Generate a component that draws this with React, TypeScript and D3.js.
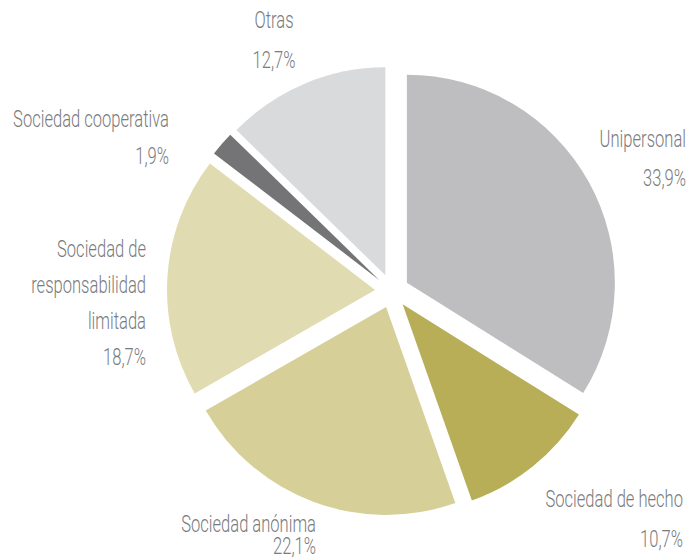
import React from "react";
import * as d3 from "d3";

const categories = [
  "Unipersonal",
  "Sociedad de hecho",
  "Sociedad anónima",
  "Sociedad de responsabilidad limitada",
  "Sociedad cooperativa",
  "Otras",
];
const values = [33.9, 10.7, 22.1, 18.7, 1.9, 12.7];
const valueLabels = ["33,9%", "10,7%", "22,1%", "18,7%", "1,9%", "12,7%"];
const colors = ["#bebec0", "#b8ae58", "#d6cf98", "#e0dbb0", "#747476", "#d9dadc"];

// text lines of each label (name lines followed by value)
const nameLines = [
  ["Unipersonal"],
  ["Sociedad de hecho"],
  ["Sociedad anónima"],
  ["Sociedad de", "responsabilidad", "limitada"],
  ["Sociedad cooperativa"],
  ["Otras"],
];
const labelLayout = [
  { x: 686, y: 147, gap: 39, anchor: "end" },
  { x: 683, y: 507, gap: 40, anchor: "end" },
  { x: 316, y: 532, gap: 22, anchor: "end" },
  { x: 146, y: 257, gap: 36, anchor: "end" },
  { x: 169, y: 127, gap: 37, anchor: "end" },
  { x: 274, y: 28, gap: 40, anchor: "middle" },
];

const W = 689;
const H = 557;
const cx = 392;
const cy = 291;
const R = 208;
const explode = 17;
const squeeze = 0.72;

export default function App() {
  const data = categories.map((c, i) => ({ c, v: values[i], i }));
  const pie = d3.pie<any>().sort(null).value((d: any) => d.v).startAngle(0).endAngle(2 * Math.PI);
  const arcs = pie(data);
  const arc = d3.arc<any>().innerRadius(0).outerRadius(R);

  return (
    <svg
      width={W}
      height={H}
      style={{ position: "absolute", left: 0, top: 0, background: "#fff" }}
      fontFamily="Roboto, sans-serif"
    >
      <g transform={`translate(${cx},${cy})`}>
        {arcs.map((a, i) => {
          const mid = (a.startAngle + a.endAngle) / 2;
          const dx = Math.sin(mid) * explode;
          const dy = -Math.cos(mid) * explode;
          return (
            <path
              key={i}
              d={arc(a) as string}
              fill={colors[i]}
              transform={`translate(${dx},${dy})`}
            />
          );
        })}
      </g>
      {nameLines.map((names, i) => {
        const L = labelLayout[i];
        const lines = [...names, valueLabels[i]];
        return (
          <text
            key={i}
            transform={`translate(${L.x},${L.y}) scale(${squeeze},1)`}
            fill="#7a7b7e"
            fontSize={23}
            fontWeight={300}
            textAnchor={L.anchor}
          >
            {lines.map((ln, j) => (
              <tspan key={j} x={0} y={j * L.gap}>
                {ln}
              </tspan>
            ))}
          </text>
        );
      })}
    </svg>
  );
}
